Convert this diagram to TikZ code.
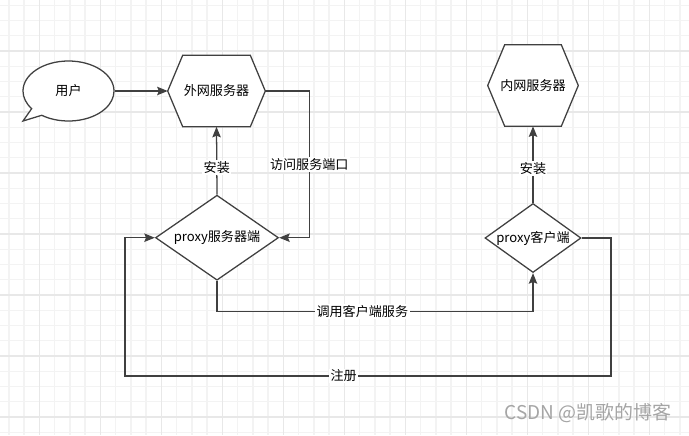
\documentclass[tikz,border=0pt]{standalone}
\usepackage{fontspec}
\setmainfont{Noto Sans CJK SC}
\usepackage{tikz}
\usetikzlibrary{positioning,arrows.meta,shapes.geometric,shapes.callouts,backgrounds}
\definecolor{linegray}{RGB}{64, 64, 64}
\definecolor{minorgrid}{RGB}{243, 243, 243}
\definecolor{majorgrid}{RGB}{232, 232, 232}
\definecolor{markgray}{RGB}{165, 165, 165}

\begin{document}
\begin{tikzpicture}[
        x=0.025cm, y=-0.025cm,
        % Node styles
        bubble/.style={ellipse callout, draw=linegray, line width=0.9pt, fill=white, minimum width=2.275cm, minimum height=1.5cm, inner sep=0pt, callout pointer arc=18, font=\fontsize{9.3}{11}\selectfont},
        server/.style={rectangle, inner sep=0pt, font=\fontsize{9.3}{11}\selectfont},
        hexline/.style={draw=linegray, fill=white, line width=0.9pt},
        proxy/.style={diamond, draw=linegray, fill=white, line width=0.9pt, inner sep=0pt, font=\fontsize{9.3}{11}\selectfont},
        flow/.style={-{Stealth[length=7.5pt, width=6pt, inset=1.2pt]}, draw=linegray, line width=0.9pt},
        tag/.style={fill=white, inner sep=1pt, font=\fontsize{9.3}{11}\selectfont},
        gridminor/.style={draw=minorgrid, line width=1pt},
        gridmajor/.style={draw=majorgrid, line width=1.1pt}
    ]
    \useasboundingbox (0, 0) rectangle (689, 435);

    % Background grid
    \begin{scope}[on background layer]
        \fill[white] (0, 0) rectangle (689, 435);
        \foreach \k in {-2,...,42} \draw[gridminor] ({39.3+15.25*\k}, 0) -- ++(0, 435);
        \foreach \k in {-3,...,25} \draw[gridminor] (0, {51+15.25*\k}) -- ++(689, 0);
        \foreach \k in {0,...,10} \draw[gridmajor] ({39.3+61*\k}, 0) -- ++(0, 435);
        \foreach \k in {0,...,6} \draw[gridmajor] (0, {51+61*\k}) -- ++(689, 0);
    \end{scope}

    % User and servers
    \node[bubble, callout absolute pointer={(23, 121)}] (user) at (68.5, 91) {用户};
    \node[server, minimum width=2.425cm, minimum height=1.775cm] (wan) at (216.5, 91) {外网服务器};
    \node[server, minimum width=2.25cm, minimum height=2.025cm] (lan) at (533, 85.5) {内网服务器};

    % Proxy nodes
    \node[proxy, shape aspect=1.45, minimum width=3.075cm, minimum height=2.125cm] (ps) at (217, 237.7) {proxy服务器端};
    \node[proxy, shape aspect=1.39, minimum width=2.4cm, minimum height=1.725cm] (pc) at (533, 238) {proxy客户端};

    % Hexagon outlines
    \begin{scope}[on background layer]
        \foreach \n/\d in {wan/0.375cm, lan/0.425cm}
            \filldraw[hexline] (\n.west) -- ([xshift=\d]\n.north west) -- ([xshift=-\d]\n.north east)
                -- (\n.east) -- ([xshift=-\d]\n.south east) -- ([xshift=\d]\n.south west) -- cycle;
    \end{scope}

    % Connectors
    \draw[flow] (user.east) -- (wan.west);
    \draw[flow] (ps.north) -- node[tag, pos=0.4] {安装} (wan.south);
    \draw[flow] (pc.north) -- node[tag, pos=0.45] {安装} (lan.south);
    \draw[flow] (wan.east) -- ++(44, 0) |- (ps.east) node[tag, pos=0.25] {访问服务端口};
    \draw[flow] (ps.south) -- ++(0, 31) -| (pc.south) node[tag, pos=0.23] {调用客户端服务};

    \coordinate (regR) at (611, 376);
    \coordinate (regL) at (125, 376);
    \draw[flow] (pc.east) -| (regR) -- node[tag, pos=0.55] {注册} (regL) |- (ps.west);

    % Watermark
    \node[text=markgray, font=\fontsize{13.5}{15}\selectfont] (mark) at (588, 413) {CSDN @凯歌的博客};

\end{tikzpicture}
\end{document}
